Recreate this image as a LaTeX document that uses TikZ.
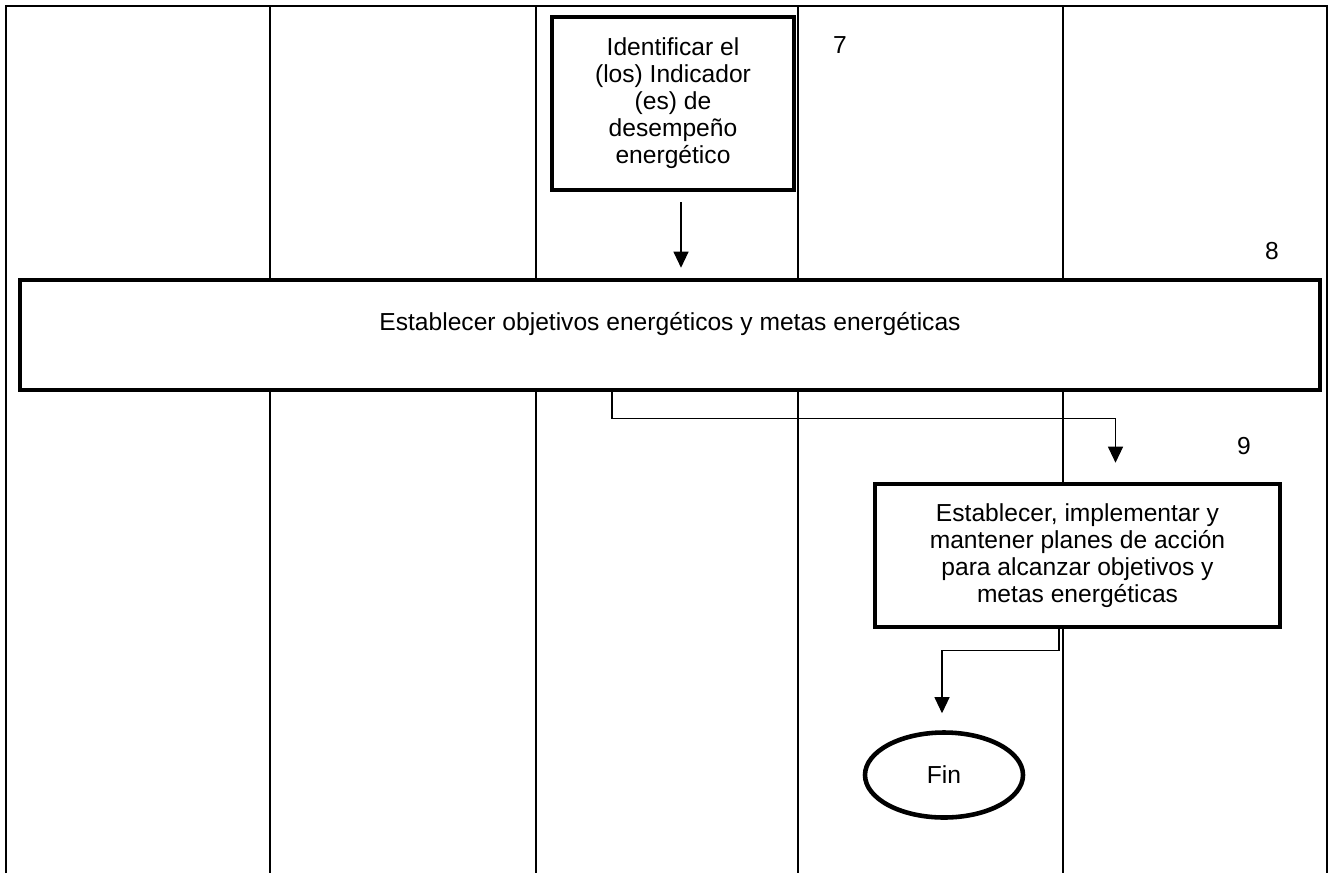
\documentclass[tikz,border=0pt]{standalone}
\usepackage{fontspec}
\setmainfont{Liberation Sans}
\usetikzlibrary{arrows.meta,calc,shapes.geometric}

\tikzset{
  every node/.append style={font=\fontsize{14pt}{15.4pt}\selectfont},
  tabla/.style={line width=1.1pt},
  caja/.style={draw, line width=2.6pt, fill=white, align=center, inner sep=0pt},
  fin/.style={draw, ellipse, line width=2.6pt, fill=white, inner sep=0pt},
  flujo/.style={line width=0.6pt, -{Triangle[length=3.2mm,width=3mm]}}
}

\begin{document}
\begin{tikzpicture}[x=0.2mm,y=-0.2mm]
  \useasboundingbox (0,0) rectangle (1330,873);
  \draw[tabla] (6,873) |- (1327,6) -- (1327,873);
  \foreach \x in {270,536,798,1063}
    \draw[tabla] (\x,6) -- (\x,873);

  \node[caja, minimum width=242*0.2mm, minimum height=173*0.2mm] (ind) at (673,103.5)
    {Identificar el\\(los) Indicador\\(es) de\\desempeño\\energético};
  \node[caja, minimum width=1300*0.2mm, minimum height=110*0.2mm, text depth=5.5mm] (obj) at (670,335)
    {Establecer objetivos energéticos y metas energéticas};
  \node[caja, minimum width=405*0.2mm, minimum height=143*0.2mm] (plan) at (1077.5,555.5)
    {Establecer, implementar y\\mantener planes de acción\\para alcanzar objetivos y\\metas energéticas};
  \node[fin, minimum width=158*0.2mm, minimum height=85*0.2mm] (fin) at (944,775) {Fin};

  \node (n7) at (840,45) {7};
  \node (n8) at (1272,251) {8};
  \node (n9) at (1244,446) {9};

  \draw[flujo] ($(ind.south)+(8,10)$) -- ($(obj.north)+(11,-10)$);
  \draw[flujo] ($(obj.south)+(-58,0)$) |- ($(plan.north)+(38,-63)$) -- ($(plan.north)+(38,-19)$);
  \draw[flujo] ($(plan.south)+(-18.5,0)$) -- ++(0,21) -| ($(fin.north)+(-2,-17)$);
\end{tikzpicture}
\end{document}
